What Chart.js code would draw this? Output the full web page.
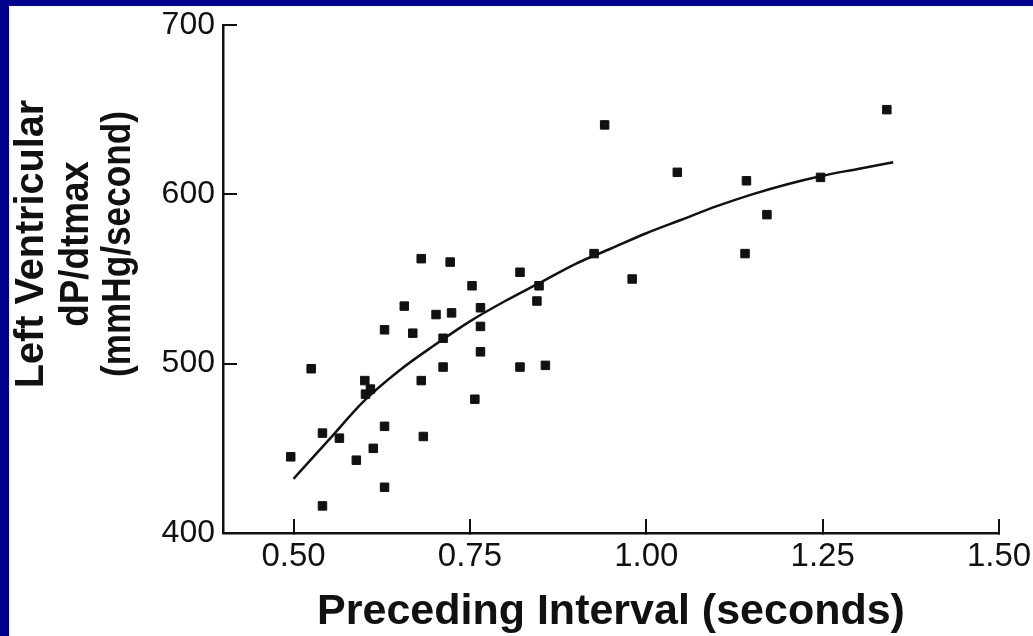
<!DOCTYPE html>
<html lang="en">

<head>
  <meta charset="UTF-8" />
  <title>Left Ventricular dP/dtmax vs Preceding Interval</title>
  <style>
    html, body { margin: 0; padding: 0; }
    body { width: 1033px; height: 636px; background: #00008f; position: relative; overflow: hidden; }
    .panel { position: absolute; left: 9px; top: 6px; width: 1024px; height: 630px; background: #fff; }
  </style>
</head>

<body>
  <div class="panel">
    <canvas id="myChart" width="1024" height="630"></canvas>
  </div>

  <script src="https://cdn.jsdelivr.net/npm/chart.js@4.4.0/dist/chart.umd.min.js"></script>
  <script>
    const intervalSec = [0.496, 0.525, 0.541, 0.541, 0.565, 0.589, 0.601, 0.602, 0.609, 0.613,
      0.629, 0.629, 0.629, 0.657, 0.669, 0.681, 0.681, 0.684, 0.702, 0.712,
      0.712, 0.722, 0.724, 0.753, 0.757, 0.765, 0.765, 0.765, 0.821, 0.821,
      0.845, 0.848, 0.857, 0.926, 0.941, 0.980, 1.044, 1.140, 1.142, 1.171,
      1.247, 1.341];
    const dpdtMax = [445, 497, 459, 416, 456, 443, 490, 482, 485, 450,
      520, 463, 427, 534, 518, 562, 490, 457, 529, 515,
      498, 560, 530, 546, 479, 533, 522, 507, 554, 498,
      537, 546, 499, 565, 641, 550, 613, 565, 608, 588,
      610, 650];

    // fitted curve
    const fitX = [0.50, 0.55, 0.60, 0.65, 0.70, 0.75, 0.80, 0.85, 0.90, 0.95,
      1.00, 1.05, 1.10, 1.15, 1.20, 1.25, 1.30, 1.35];
    const fitY = [432, 455, 478, 496, 511, 525, 537, 548, 559, 568,
      577, 585, 593, 600, 606, 611, 615, 619];

    const xTicks = [0.50, 0.75, 1.00, 1.25, 1.50];
    const yTicks = [400, 500, 600, 700];
    const yTitleLines = ['Left Ventricular', 'dP/dtmax', '(mmHg/second)'];

    Chart.defaults.font.family = '"Liberation Sans", Arial, Helvetica, sans-serif';
    Chart.defaults.color = '#111';

    // y axis title: three rotated lines, sitting a bit above the axis middle
    const yTitlePlugin = {
      id: 'yTitle',
      afterDraw(chart) {
        const ctx = chart.ctx;
        const baselines = [34, 79, 121];
        const squeeze = [0.99, 0.92, 0.88];
        ctx.save();
        ctx.fillStyle = '#111';
        ctx.font = 'bold 40px "Liberation Sans", Arial, sans-serif';
        ctx.textAlign = 'center';
        ctx.textBaseline = 'alphabetic';
        yTitleLines.forEach((line, i) => {
          ctx.save();
          ctx.translate(baselines[i], 238);
          ctx.rotate(-Math.PI / 2);
          ctx.scale(squeeze[i], 1);
          ctx.fillText(line, 0, 0);
          ctx.restore();
        });
        ctx.restore();
      }
    };

    const ctx = document.getElementById('myChart').getContext('2d');

    const myChart = new Chart(ctx, {
      type: 'scatter',
      data: {
        datasets: [{
          label: 'Beats',
          data: intervalSec.map((x, i) => ({ x: x, y: dpdtMax[i] })),
          pointStyle: 'rect',
          pointRadius: 6,
          pointBorderWidth: 1,
          backgroundColor: '#111',
          borderColor: '#111'
        }, {
          type: 'line',
          label: 'Fit',
          data: fitX.map((x, i) => ({ x: x, y: fitY[i] })),
          borderColor: '#111',
          borderWidth: 2.5,
          pointRadius: 0,
          fill: false,
          cubicInterpolationMode: 'monotone'
        }]
      },
      options: {
        responsive: false,
        animation: false,
        layout: { padding: { left: 0, right: 34, top: 19, bottom: 0 } },
        plugins: {
          legend: { display: false },
          tooltip: { enabled: false }
        },
        scales: {
          x: {
            type: 'linear',
            min: 0.40,
            max: 1.50,
            afterBuildTicks: (scale) => { scale.ticks = xTicks.map(v => ({ value: v })); },
            afterFit: (scale) => {
              scale.height = 103;
              scale.paddingLeft = 0;
              scale.paddingRight = 0;
            },
            border: { color: '#111', width: 2.5 },
            grid: { drawOnChartArea: false, drawTicks: true, tickLength: -14, color: '#111', lineWidth: 2 },
            ticks: {
              padding: 18,
              font: { size: 33, lineHeight: 1.2 },
              color: '#111',
              callback: (v) => Number(v).toFixed(2)
            },
            title: {
              display: true,
              text: 'Preceding Interval (seconds)',
              color: '#111',
              font: { size: 43, weight: 'bold', lineHeight: 1 },
              padding: { top: 0, bottom: 2 }
            }
          },
          y: {
            min: 400,
            max: 700,
            afterBuildTicks: (scale) => { scale.ticks = yTicks.map(v => ({ value: v })); },
            afterFit: (scale) => {
              scale.width = 214;
              scale.paddingTop = 0;
              scale.paddingBottom = 0;
            },
            border: { color: '#111', width: 2.5 },
            grid: { drawOnChartArea: false, drawTicks: true, tickLength: -14, color: '#111', lineWidth: 2 },
            ticks: {
              padding: 22,
              font: { size: 32, lineHeight: 1 },
              color: '#111'
            }
          }
        }
      },
      plugins: [yTitlePlugin]
    });
  </script>
</body>

</html>
